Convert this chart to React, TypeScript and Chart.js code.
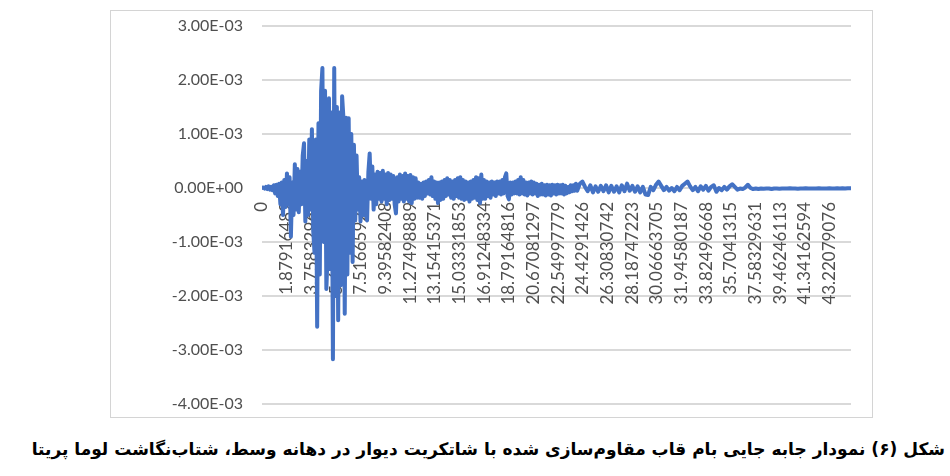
import React, { useEffect, useRef } from "react";
import { Chart, registerables } from "chart.js";

Chart.register(...registerables);

const unit = 1e-3; // values below are in units of 1e-3
const timeMax = 44.85;

// strong-motion phase: samples every 0.1 s from t = 0
const strongStep = 0.1;
const strongPhase = [
  0, 0.01, -0.01, 0.02, -0.02, 0.03, -0.03, 0.02, -0.04, 0.05,
  -0.1, 0.06, -0.15, 0.08, -0.3, 0.1, -0.5, 0.15, -0.35, 0.27,
  -0.3, 0.2, -0.9, 0.1, -0.5, 0.44, -0.4, 0.35, -0.45, 0.3,
  -0.3, 0.6, 0.83, -0.62, 0.5, -0.5, 0.9, -0.4, 1.09, -0.8,
  -1.2, 0.9, -2.57, 1.2, -1.6, 1.8, 2.22, -1.0, 1.8, -1.87,
  -1.2, 1.66, -1.5, 1.4, -3.17, 2.22, -2.0, 1.5, -2.45, 1.4,
  -1.8, 1.7, 1.3, -2.33, 1.3, -1.6, 1.29, -1.2, 1.0, -1.37,
  0.8, -0.6, 0.6, -0.4, 0.2, -0.62, 0.12, -0.5, 0.15, -0.4,
  -0.6, 0.3, 0.64, -0.2, 0.4, -0.4, 0.25, -0.3, 0.3, -0.2,
  0.28, -0.25, 0.32, -0.2, 0.25, -0.3, 0.28, -0.22, 0.25, -0.2,
  0.22, -0.3, -0.47, 0.2, -0.25, 0.25, -0.2, 0.22, -0.25, 0.27,
  -0.2, 0.22, -0.25, 0.24, -0.28, 0.2, -0.2, 0.18, -0.18, 0.1,
  -0.18, 0.08, -0.2, 0.1, -0.15, 0.12, -0.1, 0.15, -0.12, 0.2,
  -0.15, 0.12, -0.2, 0.1, -0.28, 0.1, -0.22, 0.12, -0.2, 0.15,
  -0.15, 0.18, -0.12, 0.15, -0.18, 0.12, -0.2, 0.15, -0.15, 0.18,
  -0.18, 0.2, -0.2, 0.15, -0.22, 0.12, -0.2, 0.1, -0.25, 0.12,
  -0.2, 0.15, -0.18, 0.2, -0.22, 0.18, -0.28, 0.25, -0.2, 0.15,
  -0.2, 0.12, -0.15, 0.1, -0.18, 0.12, -0.12, 0.1, -0.15, 0.12,
  -0.1, 0.12, -0.12, 0.15, -0.1, 0.2, 0.27, -0.15, -0.21, 0.1,
  -0.12, 0.1, -0.1, 0.12, -0.1, 0.15, -0.12, 0.2, -0.1, 0.15,
  -0.12, 0.1, -0.14, 0.1, -0.1, 0.12, -0.12, 0.1, -0.1, 0.08,
  -0.15, 0.06, -0.12, 0.08, -0.12, 0.05, -0.14, 0.06, -0.12, 0.05,
  -0.14, 0.06, -0.1, 0.05, -0.12, 0.06, -0.1, 0.05, -0.1, 0.06,
  -0.12, 0.04, -0.1, 0.02, -0.08, 0.05, -0.06, 0.05, -0.05, 0.08,
];

// decay phase: samples every 0.2 s from t = 24.0
const decayStart = 24.0;
const decayStep = 0.2;
const decayPhase = [
  -0.05, 0.08, 0.12, 0.02, -0.06, 0.05, -0.08, 0.03, -0.07, 0.04,
  -0.06, 0.05, -0.08, 0.04, -0.07, 0.03, -0.08, 0.05, -0.06, 0.08,
  -0.05, 0.04, -0.07, 0.03, -0.08, 0.02, -0.12, -0.13, 0.02, -0.04,
  0.06, 0.12, 0.04, -0.04, 0.02, -0.05, 0, -0.06, 0.02, -0.04,
  0.04, 0.08, 0.12, 0.03, -0.04, 0.02, -0.06, 0.03, -0.03, 0.04,
  -0.05, 0.02, 0.05, -0.07, 0, -0.04, 0.02, -0.03, 0.03, 0.07,
  0.02, -0.03, -0.01, -0.02, 0.01, 0.06, 0, -0.02, -0.01, -0.02,
  -0.01, -0.015, -0.01, -0.01, -0.02, -0.01, -0.01, -0.015, -0.01, -0.01,
  -0.01, -0.005, -0.01, -0.01, -0.015, -0.01, -0.01, -0.005, -0.01, -0.01,
  -0.01, -0.01, -0.005, -0.01, -0.01, -0.01, -0.005, -0.01, -0.01, -0.005,
  -0.01, -0.005, -0.01, -0.005, -0.005,
];

const xTickLabels = [
  "0", "1.87916482", "3.75832963", "5.63749445", "7.51665926", "9.39582408",
  "11.27498889", "13.15415371", "15.03331853", "16.91248334", "18.79164816",
  "20.67081297", "22.54997779", "24.4291426", "26.30830742", "28.18747223",
  "30.06663705", "31.94580187", "33.82496668", "35.7041315", "37.58329631",
  "39.46246113", "41.34162594", "43.22079076",
];

const yTickValues = [-0.004, -0.003, -0.002, -0.001, 0, 0.001, 0.002, 0.003];
const yTickLabels = [
  "-4.00E-03", "-3.00E-03", "-2.00E-03", "-1.00E-03", "0.00E+00",
  "1.00E-03", "2.00E-03", "3.00E-03",
];

const caption =
  "شکل (۶) نمودار جابه جایی بام قاب مقاوم‌سازی شده با شاتکریت دیوار در دهانه وسط، شتاب‌نگاشت لوما پریتا";

export default function App() {
  const canvasRef = useRef<HTMLCanvasElement | null>(null);

  useEffect(() => {
    const canvas = canvasRef.current;
    if (!canvas) return;
    const points = [
      ...strongPhase.map((v, i) => ({ x: i * strongStep, y: v * unit })),
      ...decayPhase.map((v, j) => ({ x: decayStart + j * decayStep, y: v * unit })),
    ];
    const xTickValues = xTickLabels.map((s) => Number(s));
    const chart = new Chart(canvas, {
      type: "line",
      data: {
        datasets: [
          {
            data: points,
            borderColor: "#4472C4",
            borderWidth: 4,
            pointRadius: 0,
            tension: 0,
            fill: false,
            borderJoinStyle: "round",
            borderCapStyle: "round",
          },
        ],
      },
      options: {
        animation: false,
        responsive: false,
        maintainAspectRatio: false,
        layout: { padding: { left: 0, right: 21, top: 15, bottom: 13 } },
        plugins: { legend: { display: false }, tooltip: { enabled: false } },
        scales: {
          x: {
            type: "linear",
            position: { y: 0 } as any,
            min: 0,
            max: timeMax,
            afterBuildTicks: (s: any) => {
              s.ticks = xTickValues.map((v) => ({ value: v }));
            },
            afterFit: (s: any) => {
              s.height = 0;
              s.paddingLeft = 0;
              s.paddingRight = 0;
            },
            grid: { display: false, drawTicks: false },
            border: { display: false },
            ticks: {
              autoSkip: false,
              maxRotation: 90,
              minRotation: 90,
              padding: 14,
              color: "#4f4f4f",
              font: { family: "Lato", size: 17 },
              callback: (_v: any, i: number) => xTickLabels[i],
            },
          },
          y: {
            type: "linear",
            min: -0.004,
            max: 0.003,
            afterBuildTicks: (s: any) => {
              s.ticks = yTickValues.map((v) => ({ value: v }));
            },
            afterFit: (s: any) => {
              s.width = 151;
              s.paddingTop = 0;
              s.paddingBottom = 0;
            },
            grid: { color: "#d9d9d9", lineWidth: 2, drawTicks: false },
            border: { display: false },
            ticks: {
              padding: 19,
              color: "#4f4f4f",
              font: { family: "Lato", size: 16 },
              callback: (_v: any, i: number) => yTickLabels[i],
            },
          },
        },
      },
    });
    return () => chart.destroy();
  }, []);

  return (
    <div
      style={{
        position: "fixed",
        left: 0,
        top: 0,
        width: 950,
        height: 476,
        background: "#ffffff",
        overflow: "hidden",
      }}
    >
      <div
        style={{
          position: "absolute",
          left: 110,
          top: 10,
          width: 761,
          height: 406,
          border: "1px solid #d4d4d4",
        }}
      >
        <canvas ref={canvasRef} width={761} height={406} style={{ display: "block" }} />
      </div>
      <div
        style={{
          position: "absolute",
          right: 5,
          top: 437,
          direction: "rtl",
          whiteSpace: "nowrap",
          fontFamily: "'DejaVu Sans', sans-serif",
          fontWeight: "bold",
          fontSize: 17,
          lineHeight: "24px",
          color: "#000000",
        }}
      >
        {caption}
      </div>
    </div>
  );
}
